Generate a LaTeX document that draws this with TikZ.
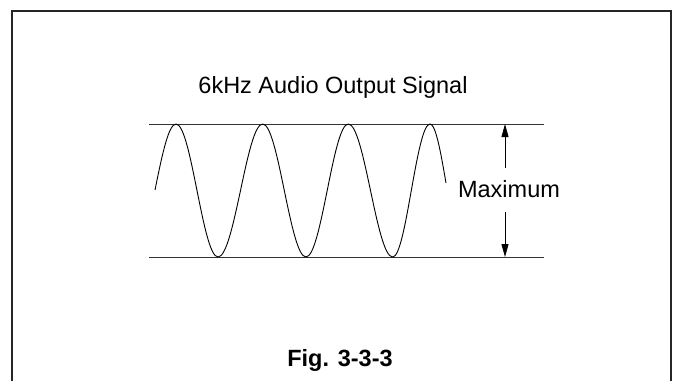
\documentclass[tikz,border=0pt]{standalone}
\usepackage{fontspec}
\setmainfont{Liberation Sans}
\usetikzlibrary{arrows.meta, positioning, calc}

\tikzset{
    frameline/.style={line width=2pt, draw=black!85},
    levelline/.style={line width=1pt, draw=black!80},
    wave/.style={line width=0.9pt},
    dimarrow/.style={line width=0.8pt, -{Triangle[length=13pt, width=7pt]}},
    bigtext/.style={font=\fontsize{23.5}{28}\selectfont, inner sep=0pt}
}

\begin{document}
\begin{tikzpicture}[x=1pt, y=-1pt]
    \useasboundingbox (0,0) rectangle (676,381);
    \draw[frameline] (12,381) -- (12,11) -- (671,11) -- (671,381);

    \node[bigtext, anchor=base] (title) at (333,93) {6kHz Audio Output Signal};

    % upper and lower levels
    \coordinate (topL) at (149,124);
    \coordinate (topR) at (544,124);
    \coordinate (botL) at (149,257);
    \coordinate (botR) at (544,257);
    \draw[levelline] (topL) -- (topR);
    \draw[levelline] (botL) -- (botR);

    % the signal
    \draw[wave] (155,190) sin (176,124) cos (197,190.5) sin (218,257)
        cos (240.5,190.5) sin (262.7,124) cos (284.3,190.5) sin (306,257)
        cos (327.2,190.5) sin (348.3,124) cos (370.5,190.5) sin (392.7,257)
        cos (411.3,190.5) sin (430,124) cos (446,183);

    % amplitude
    \node[bigtext, anchor=base] (maxlabel) at (509,197) {Maximum};
    \coordinate (upfoot) at (505,168);
    \coordinate (downfoot) at (505,212);
    \draw[dimarrow] (upfoot) -- (topR -| upfoot);
    \draw[dimarrow] (downfoot) -- (botR -| downfoot);

    \node[bigtext, anchor=base] (caption) at (340,366) {\bfseries Fig. 3-3-3};
\end{tikzpicture}
\end{document}
